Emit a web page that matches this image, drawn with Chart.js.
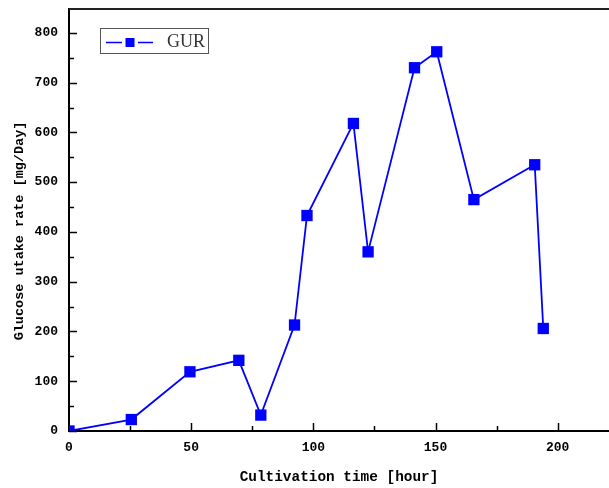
<!DOCTYPE html>
<html>
<head>
<meta charset="utf-8">
<script src="https://cdn.jsdelivr.net/npm/chart.js@4.4.1/dist/chart.umd.min.js"></script>
<style>
  html, body { margin: 0; padding: 0; background: #fff; }
  #wrap { width: 609px; height: 488px; position: relative; }
</style>
</head>
<body>
<div id="wrap"><canvas id="gur-chart"></canvas></div>
<script>
// Cultivation time [hour] and glucose uptake rate [mg/Day]
const timeHours = [0, 25.5, 49.5, 69.5, 78.5, 92.3, 97.4, 116.4, 122.4, 141.4, 150.5, 165.7, 190.6, 194.1];
const gurValues = [0, 23, 119, 142, 32, 213, 433, 618, 360, 730, 762, 465, 535, 206];
const seriesLabel = 'GUR';
const xTitle = 'Cultivation time [hour]';
const yTitle = 'Glucose utake rate [mg/Day]';

const tickFont = { family: 'Liberation Mono', size: 13, weight: 'bold' };
const titleFont = { family: 'Liberation Mono', size: 14.4, weight: 'bold' };

function dataMaker(xs, ys) {
    return xs.map((x, i) => ({ x: x, y: ys[i] }));
}

function line(ctx, x1, y1, x2, y2) {
    ctx.beginPath();
    ctx.moveTo(x1, y1);
    ctx.lineTo(x2, y2);
    ctx.stroke();
}

// inward tick marks (major on the scale ticks, minor half way), top frame,
// y title (sits a bit below the axis centre in the original) and boxed legend
const frameTicks = {
    id: 'frameTicks',
    afterDraw(chart) {
        const ctx = chart.ctx;
        const a = chart.chartArea;
        const xs = chart.scales.x;
        const ys = chart.scales.y;
        ctx.save();
        ctx.strokeStyle = '#000';
        ctx.lineWidth = 1.5;
        const yv = ys.ticks.map(t => t.value);
        yv.forEach((v, i) => {
            const py = Math.round(ys.getPixelForValue(v)) + 0.5;
            line(ctx, a.left, py, a.left + 8, py);
            const step = i + 1 < yv.length ? yv[i + 1] - v : yv[1] - yv[0];
            const my = ys.getPixelForValue(v + step / 2);
            if (my > a.top) line(ctx, a.left, Math.round(my) + 0.5, a.left + 5, Math.round(my) + 0.5);
        });
        const xv = xs.ticks.map(t => t.value);
        xv.forEach((v, i) => {
            const px = Math.round(xs.getPixelForValue(v)) + 0.5;
            if (v !== xs.min) line(ctx, px, a.bottom, px, a.bottom - 8);
            const step = i + 1 < xv.length ? xv[i + 1] - v : xv[1] - xv[0];
            const mx = xs.getPixelForValue(v + step / 2);
            if (mx < a.right) line(ctx, Math.round(mx) + 0.5, a.bottom, Math.round(mx) + 0.5, a.bottom - 5);
        });
        ctx.strokeStyle = '#222';
        ctx.lineWidth = 2;
        line(ctx, a.left, a.top, a.right, a.top);

        // y axis title
        ctx.save();
        ctx.translate(19.5, (a.top + a.bottom) / 2 + 11);
        ctx.rotate(-Math.PI / 2);
        ctx.fillStyle = '#000';
        ctx.font = 'bold 13.5px "Liberation Mono"';
        ctx.textAlign = 'center';
        ctx.textBaseline = 'middle';
        ctx.fillText(yTitle, 0, 0);
        ctx.restore();

        // legend
        const ds = chart.data.datasets[0];
        ctx.strokeStyle = '#555';
        ctx.lineWidth = 1;
        ctx.strokeRect(100.5, 28.5, 108, 25);
        ctx.strokeStyle = ds.borderColor;
        ctx.lineWidth = 1.5;
        line(ctx, 106, 42.5, 122, 42.5);
        line(ctx, 138, 42.5, 153, 42.5);
        ctx.fillStyle = ds.backgroundColor;
        ctx.fillRect(125.5, 38, 9, 9);
        ctx.fillStyle = '#333';
        ctx.font = '18px "Liberation Serif"';
        ctx.textBaseline = 'middle';
        ctx.fillText(ds.label, 167, 42);
        ctx.restore();
    }
};

const data = {
    datasets: [{
        label: seriesLabel,
        data: dataMaker(timeHours, gurValues),
        borderColor: 'rgb(0,0,255)',
        backgroundColor: 'rgb(0,0,255)',
        borderWidth: 1.8,
        pointStyle: 'rect',
        pointRadius: 8,
        pointHoverRadius: 8,
        pointBorderWidth: 0,
        showLine: true,
        fill: false,
        tension: 0
    }]
};

const config = {
    type: 'scatter',
    data: data,
    options: {
        responsive: true,
        maintainAspectRatio: false,
        animation: false,
        layout: { autoPadding: false, padding: { left: 0, top: 9, right: 0, bottom: 0 } },
        plugins: {
            legend: { display: false },
            tooltip: { enabled: false }
        },
        scales: {
            x: {
                type: 'linear',
                position: 'bottom',
                min: 0,
                max: 221,
                grid: { display: true, drawOnChartArea: false, drawTicks: false },
                border: { display: true, color: '#000', width: 2 },
                ticks: {
                    stepSize: 50,
                    includeBounds: false,
                    autoSkip: false,
                    maxRotation: 0,
                    padding: 9,
                    color: '#000',
                    font: tickFont
                },
                title: {
                    display: true,
                    text: xTitle,
                    color: '#000',
                    font: titleFont,
                    padding: { top: 0, bottom: 2 }
                },
                afterFit: scale => {
                    scale.height = 57;
                    scale.paddingLeft = 0;
                    scale.paddingRight = 0;
                }
            },
            y: {
                type: 'linear',
                min: 0,
                max: 848,
                grid: { display: true, drawOnChartArea: false, drawTicks: false },
                border: { display: true, color: '#000', width: 2 },
                ticks: {
                    stepSize: 100,
                    includeBounds: false,
                    autoSkip: false,
                    padding: 11,
                    color: '#000',
                    font: tickFont
                },
                title: { display: false },
                afterFit: scale => {
                    scale.width = 69;
                    scale.paddingTop = 0;
                    scale.paddingBottom = 0;
                }
            }
        }
    },
    plugins: [frameTicks]
};

window.onload = function() {
    var ctx = document.getElementById('gur-chart').getContext('2d');
    window.gurChart = new Chart(ctx, config);
};
</script>
</body>
</html>
